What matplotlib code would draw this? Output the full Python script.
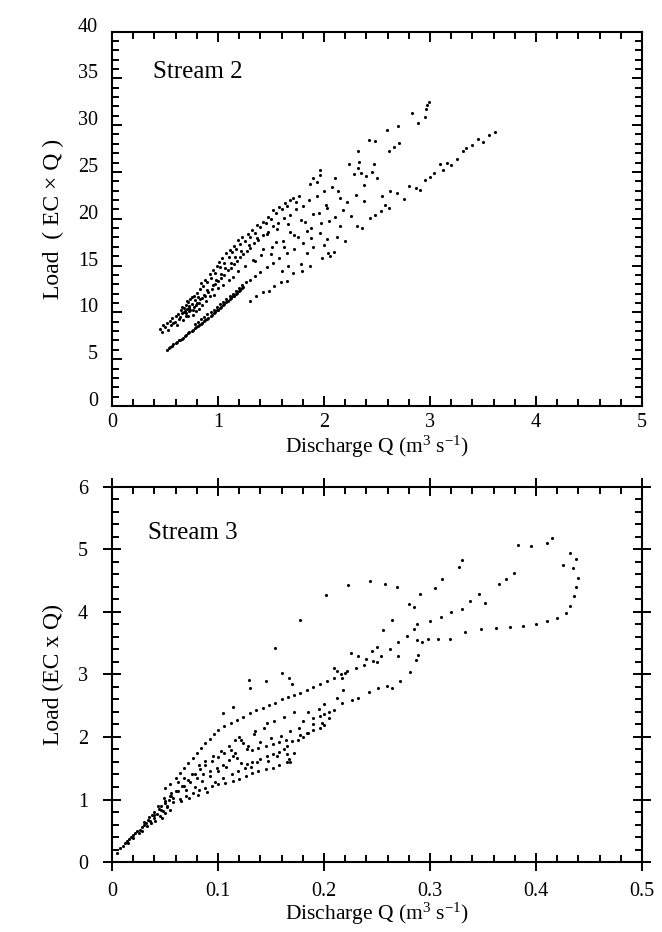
import matplotlib
matplotlib.use("Agg")
import matplotlib.pyplot as plt
import matplotlib.transforms as mtransforms
from matplotlib.ticker import MultipleLocator

plt.rcParams['font.family'] = ['Liberation Serif', 'DejaVu Serif']
plt.rcParams['mathtext.fontset'] = 'custom'
plt.rcParams['mathtext.rm'] = 'Liberation Serif'
plt.rcParams['mathtext.it'] = 'Liberation Serif:italic'

# ---- Stream 2 (discharge m3/s, load EC x Q) ----
s2_upper_q = [0.45, 0.48, 0.50, 0.52, 0.55, 0.57, 0.58, 0.60, 0.62, 0.63, 0.65, 0.66, 0.68, 0.69,
              0.70, 0.71, 0.72, 0.73, 0.74, 0.75, 0.77, 0.78, 0.80, 0.81, 0.83, 0.84, 0.86, 0.88,
              0.90, 0.92, 0.93, 0.95, 0.97, 0.99, 1.01, 1.02, 1.04, 1.06, 1.08, 1.10, 1.11, 1.13,
              1.15, 1.17, 1.19, 1.21, 1.23, 1.25, 1.28, 1.30, 1.32, 1.35, 1.37, 1.40, 1.42, 1.45,
              1.47, 1.50, 1.52, 1.55, 1.58, 1.60, 1.63, 1.65, 1.68, 1.71, 1.74, 1.76]
s2_upper_l = [8.2, 8.6, 8.4, 8.9, 9.1, 9.4, 8.9, 9.6, 9.8, 9.3, 10.2, 9.9, 10.5, 10.1,
              10.8, 10.4, 11.1, 10.7, 11.4, 10.9, 11.8, 11.3, 12.1, 11.6, 12.5, 13.1, 12.8, 13.5,
              13.2, 14.1, 13.7, 14.5, 14.2, 15.0, 15.4, 14.8, 15.8, 15.3, 16.3, 15.9, 16.7, 16.4,
              17.1, 16.8, 17.7, 17.3, 18.0, 17.6, 18.4, 18.1, 18.8, 18.5, 19.3, 19.1, 19.7, 19.5,
              20.2, 20.0, 20.9, 20.6, 21.3, 21.0, 21.7, 21.4, 22.0, 22.2, 21.8, 22.4]

s2_mid_q = [0.70, 0.73, 0.76, 0.79, 0.82, 0.85, 0.88, 0.91, 0.94, 0.97, 1.00, 1.03, 1.06, 1.09,
            1.12, 1.15, 1.18, 1.21, 1.24, 1.27, 1.30, 1.34, 1.38, 1.42, 1.47, 1.52, 1.57, 1.62,
            1.68, 1.74, 1.80, 1.86, 1.93, 2.00]
s2_mid_l = [9.6, 10.1, 10.3, 10.8, 11.0, 11.5, 11.8, 12.2, 12.5, 13.0, 13.3, 13.7, 14.0, 14.5,
            14.7, 15.2, 15.5, 15.9, 16.2, 16.6, 16.9, 17.4, 17.7, 18.3, 18.6, 19.2, 19.5, 20.1,
            20.4, 21.0, 21.4, 22.0, 22.4, 23.0]

s2_fill_q = [0.47, 0.53, 0.56, 0.59, 0.61, 0.64, 0.67, 0.70, 0.72, 0.74, 0.76, 0.77, 0.79, 0.80,
             0.82, 0.83, 0.85, 0.87, 0.89, 0.90, 0.92, 0.95, 0.96, 0.98, 1.00, 1.03, 1.05, 1.07,
             1.10, 1.12, 1.14, 1.16, 1.19, 1.22, 1.25, 1.29, 1.33, 1.37, 1.41, 1.46, 1.51, 1.56,
             1.61, 1.66, 1.72, 1.78, 1.84, 1.90, 1.97, 2.03, 2.10, 0.66, 0.71, 0.75, 0.68, 0.73]
s2_fill_l = [7.9, 8.1, 8.6, 9.0, 8.7, 9.5, 9.2, 9.9, 9.6, 10.2, 9.7, 10.6, 10.1, 11.0,
             10.4, 11.4, 10.8, 11.9, 11.2, 12.4, 11.7, 12.9, 11.9, 13.5, 12.6, 14.1, 12.9, 14.7,
             13.5, 15.3, 13.8, 15.9, 14.4, 16.6, 14.9, 17.2, 15.6, 17.9, 16.1, 18.4, 17.0, 18.9,
             17.6, 19.4, 18.3, 19.9, 18.7, 20.5, 19.5, 21.2, 20.2, 10.6, 11.2, 11.6, 10.0, 10.5]

s2_low_q = [0.78, 0.81, 0.84, 0.87, 0.90, 0.93, 0.96, 0.99, 1.02, 1.05, 1.08, 1.11, 1.14, 1.17,
            1.20, 1.23, 1.26, 1.30, 1.35, 1.40, 1.46, 1.52, 1.58, 1.65, 1.72, 1.80, 1.88, 1.96]
s2_low_l = [8.8, 9.0, 9.3, 9.5, 9.8, 10.0, 10.3, 10.6, 10.9, 11.1, 11.4, 11.7, 12.0, 12.3,
            12.6, 12.9, 13.2, 13.5, 13.9, 14.3, 14.8, 15.3, 15.8, 16.3, 16.8, 17.4, 17.9, 18.5]

s2_base_q = [0.52, 0.54, 0.55, 0.57, 0.58, 0.60, 0.61, 0.63, 0.64, 0.66, 0.67, 0.69, 0.70, 0.72,
             0.73, 0.75, 0.76, 0.78, 0.79, 0.81, 0.82, 0.84, 0.85, 0.87, 0.88, 0.90, 0.91, 0.93,
             0.94, 0.96, 0.97, 0.99, 1.00, 1.02, 1.03, 1.05, 1.06, 1.08, 1.09, 1.11, 1.12, 1.14,
             1.15, 1.17, 1.18, 1.20, 1.21, 1.23, 1.24]
s2_base_l = [6.0, 6.2, 6.3, 6.4, 6.6, 6.7, 6.8, 7.0, 7.1, 7.2, 7.3, 7.5, 7.6, 7.8,
             7.9, 8.0, 8.1, 8.3, 8.4, 8.5, 8.6, 8.8, 8.9, 9.1, 9.2, 9.3, 9.4, 9.6,
             9.7, 9.9, 10.0, 10.2, 10.3, 10.5, 10.6, 10.8, 10.9, 11.1, 11.2, 11.4, 11.5, 11.7,
             11.8, 12.0, 12.1, 12.3, 12.4, 12.6, 12.7]

s2_right_q = [1.30, 1.36, 1.42, 1.48, 1.53, 1.59, 1.65, 1.71, 1.79, 1.87, 1.98, 2.06, 2.09, 2.20,
              2.12, 2.31, 2.36, 2.43, 2.48, 2.54, 2.58, 2.61, 2.69, 2.75, 2.80, 2.87, 2.91, 2.95,
              3.00, 3.04, 3.09, 3.12, 3.16, 3.20, 3.25, 3.31, 3.34, 3.40, 3.45, 3.50, 3.56, 3.61]
s2_right_l = [11.2, 11.8, 12.2, 12.3, 12.8, 13.2, 13.3, 14.2, 14.4, 14.9, 15.8, 16.0, 16.4, 17.6,
              18.0, 19.2, 19.0, 20.1, 20.4, 20.8, 21.5, 21.2, 22.7, 22.1, 23.5, 23.3, 23.1, 24.1,
              24.5, 24.9, 25.8, 25.2, 26.0, 25.7, 26.4, 27.2, 27.6, 27.9, 28.5, 28.2, 28.9, 29.3]

s2_cloud_q = [1.35, 1.42, 1.50, 1.55, 1.62, 1.68, 1.75, 1.82, 1.88, 1.87, 1.90, 1.93, 1.96, 1.96,
              1.95, 2.02, 2.05, 2.08, 2.10, 2.13, 2.15, 2.18, 2.22, 2.24, 2.28, 2.30, 2.32, 2.33,
              2.35, 2.38, 2.40, 2.42, 2.45, 2.47, 2.48, 2.50, 2.25, 2.32, 2.15, 2.00, 1.84, 1.90,
              2.03, 2.04, 1.60, 1.66, 1.78, 2.55, 2.62, 2.38]
s2_cloud_l = [15.5, 16.8, 16.2, 17.5, 17.0, 18.6, 18.0, 19.6, 19.0, 23.7, 24.3, 23.9, 25.2, 24.7,
              20.6, 21.5, 19.8, 23.4, 24.3, 23.0, 22.2, 20.9, 21.8, 25.9, 24.8, 22.5, 25.4, 26.1,
              24.9, 23.6, 24.6, 28.4, 25.0, 25.9, 28.3, 24.3, 20.3, 27.2, 19.2, 17.2, 16.3, 17.0,
              17.8, 16.3, 14.4, 14.9, 15.2, 22.4, 23.0, 21.9]

s2_top_q = [2.59, 2.66, 2.61, 2.70, 2.71, 2.83, 2.89, 2.95, 2.96, 2.97, 2.99]
s2_top_l = [29.5, 27.7, 27.2, 29.9, 28.1, 31.3, 30.2, 30.9, 31.7, 32.2, 32.5]

# ---- Stream 3 ----
s3_origin_q = [0.005, 0.008, 0.010, 0.012, 0.014, 0.016, 0.018, 0.020, 0.022, 0.024, 0.026, 0.028,
               0.030, 0.030, 0.032, 0.034, 0.035, 0.036, 0.038, 0.040, 0.040, 0.042, 0.044, 0.045,
               0.046, 0.048, 0.050, 0.050, 0.052, 0.054, 0.055, 0.056, 0.015, 0.020, 0.025, 0.028,
               0.033, 0.037, 0.041, 0.043, 0.047, 0.049]
s3_origin_l = [0.15, 0.22, 0.25, 0.30, 0.33, 0.37, 0.40, 0.43, 0.47, 0.50, 0.52, 0.56,
               0.60, 0.64, 0.62, 0.68, 0.72, 0.66, 0.75, 0.70, 0.80, 0.77, 0.85, 0.74,
               0.90, 0.82, 0.95, 0.78, 0.88, 1.00, 0.84, 1.10, 0.30, 0.38, 0.46, 0.50,
               0.58, 0.62, 0.66, 0.90, 0.70, 1.02]

s3_top_q = [0.050, 0.055, 0.060, 0.064, 0.068, 0.072, 0.076, 0.080, 0.084, 0.088, 0.092, 0.096,
            0.100, 0.106, 0.112, 0.118, 0.124, 0.130, 0.136, 0.142, 0.148, 0.154, 0.160, 0.166,
            0.172, 0.177, 0.184, 0.190, 0.196, 0.203, 0.209, 0.216, 0.222, 0.230, 0.238, 0.246,
            0.254, 0.262, 0.270, 0.278, 0.285]
s3_top_l = [1.18, 1.25, 1.35, 1.42, 1.50, 1.58, 1.66, 1.74, 1.82, 1.90, 1.97, 2.04,
            2.11, 2.17, 2.22, 2.27, 2.32, 2.38, 2.43, 2.47, 2.51, 2.55, 2.60, 2.64,
            2.67, 2.70, 2.75, 2.80, 2.85, 2.90, 2.95, 3.00, 3.05, 3.10, 3.15, 3.22,
            3.30, 3.40, 3.52, 3.62, 3.72]

s3_b2_q = [0.055, 0.060, 0.066, 0.072, 0.078, 0.083, 0.088, 0.094, 0.100, 0.106, 0.112, 0.116,
           0.120, 0.124, 0.127, 0.132, 0.138, 0.145, 0.152, 0.158, 0.164, 0.170, 0.175]
s3_b2_l = [1.05, 1.14, 1.22, 1.31, 1.40, 1.48, 1.55, 1.62, 1.68, 1.74, 1.79, 1.95,
           2.00, 1.90, 1.80, 1.79, 1.82, 1.86, 1.88, 1.92, 1.95, 1.94, 1.95]

s3_b3_q = [0.050, 0.056, 0.062, 0.068, 0.074, 0.080, 0.086, 0.092, 0.099, 0.105, 0.110, 0.114,
           0.118, 0.122, 0.127, 0.132, 0.140, 0.146, 0.152, 0.158, 0.162, 0.165, 0.167, 0.168]
s3_b3_l = [0.98, 1.06, 1.14, 1.21, 1.28, 1.35, 1.41, 1.46, 1.50, 1.55, 1.63, 1.69,
           1.66, 1.58, 1.56, 1.60, 1.65, 1.69, 1.72, 1.76, 1.80, 1.72, 1.65, 1.60]

s3_b4_q = [0.040, 0.046, 0.052, 0.058, 0.064, 0.070, 0.076, 0.082, 0.088, 0.094, 0.100, 0.107,
           0.114, 0.120, 0.126, 0.132, 0.138, 0.145, 0.152, 0.158, 0.165, 0.172, 0.177, 0.184,
           0.190, 0.196, 0.200, 0.205, 0.209, 0.217, 0.226, 0.232, 0.242, 0.251, 0.259, 0.264,
           0.272, 0.281, 0.287, 0.289]
s3_b4_l = [0.76, 0.83, 0.90, 0.96, 1.01, 1.06, 1.11, 1.15, 1.19, 1.22, 1.24, 1.26,
           1.29, 1.33, 1.37, 1.42, 1.45, 1.48, 1.50, 1.55, 1.60, 1.75, 2.03, 2.07,
           2.11, 2.15, 2.19, 2.30, 2.43, 2.54, 2.59, 2.62, 2.72, 2.78, 2.81, 2.78,
           2.89, 3.04, 3.23, 3.31]

s3_fill_q = [0.058, 0.062, 0.065, 0.068, 0.070, 0.073, 0.075, 0.078, 0.081, 0.082, 0.085, 0.088,
             0.090, 0.092, 0.095, 0.097, 0.100, 0.103, 0.105, 0.108, 0.110, 0.113, 0.116, 0.119,
             0.122, 0.125, 0.128, 0.131, 0.134, 0.137, 0.140, 0.143, 0.147, 0.150, 0.153, 0.156,
             0.159, 0.162, 0.165, 0.168, 0.172, 0.176, 0.180, 0.185, 0.190, 0.195, 0.200, 0.205,
             0.212, 0.218]
s3_fill_l = [1.02, 1.28, 0.98, 1.34, 1.15, 1.02, 1.40, 1.20, 1.07, 1.55, 1.30, 1.62,
             1.12, 1.38, 1.70, 1.28, 1.45, 1.78, 1.34, 1.52, 1.85, 1.40, 1.75, 1.46,
             1.95, 1.50, 1.85, 1.52, 2.05, 1.60, 1.92, 2.15, 1.62, 1.98, 2.25, 1.70,
             2.02, 2.32, 1.85, 2.10, 2.40, 2.15, 2.25, 2.40, 2.20, 2.45, 2.52, 2.40,
             2.62, 2.75]

s3_mid_q = [0.129, 0.130, 0.145, 0.160, 0.167, 0.170, 0.105, 0.114, 0.146, 0.135, 0.177, 0.154,
            0.190, 0.196, 0.200, 0.198, 0.185, 0.180, 0.209, 0.217, 0.212, 0.220, 0.225, 0.232,
            0.245, 0.250, 0.256, 0.264, 0.270, 0.250, 0.240]
s3_mid_l = [2.91, 2.78, 2.90, 3.03, 2.95, 2.85, 2.39, 2.48, 2.22, 2.10, 3.87, 3.42,
            2.30, 2.33, 2.36, 2.22, 2.06, 2.00, 3.10, 2.95, 3.05, 3.02, 3.34, 3.30,
            3.38, 3.44, 3.71, 3.87, 3.30, 3.20, 3.25]

s3_upper_q = [0.202, 0.223, 0.243, 0.258, 0.269, 0.280, 0.285, 0.291, 0.305, 0.311, 0.327,
              0.330, 0.346, 0.352, 0.365, 0.372, 0.379, 0.383, 0.395, 0.410, 0.415, 0.300,
              0.310, 0.320, 0.330, 0.338, 0.288, 0.288]
s3_upper_l = [4.27, 4.43, 4.50, 4.44, 4.40, 4.12, 4.08, 4.29, 4.38, 4.52, 4.72,
              4.83, 4.29, 4.15, 4.45, 4.52, 4.63, 5.07, 5.05, 5.10, 5.18, 3.85,
              3.92, 4.00, 4.05, 4.18, 3.80, 3.55]

s3_loop_q = [0.440, 0.438, 0.436, 0.432, 0.428, 0.420, 0.410, 0.400, 0.388, 0.375, 0.362, 0.348,
             0.333, 0.319, 0.308, 0.298, 0.292, 0.435, 0.438, 0.432, 0.425]
s3_loop_l = [4.55, 4.40, 4.25, 4.10, 3.98, 3.90, 3.85, 3.80, 3.78, 3.76, 3.74, 3.72,
             3.68, 3.56, 3.56, 3.57, 3.52, 4.70, 4.85, 4.95, 4.75]


def style_axes(ax, xmax, ymax, xmaj, xmin, ymaj, ymin, cross):
    ax.set_xlim(0, xmax)
    ax.set_ylim(0, ymax)
    ax.xaxis.set_major_locator(MultipleLocator(xmaj))
    ax.xaxis.set_minor_locator(MultipleLocator(xmin))
    ax.yaxis.set_major_locator(MultipleLocator(ymaj))
    ax.yaxis.set_minor_locator(MultipleLocator(ymin))
    for sp in ax.spines.values():
        sp.set_linewidth(1.5)
    ax.tick_params(which='both', top=True, right=True, labelsize=14.5, width=1.4)
    ax.tick_params(which='minor', direction='in', length=4.8)
    if cross:
        ax.tick_params(which='major', direction='inout', length=12.5)
        ax.tick_params(axis='x', which='major', pad=8)
        ax.tick_params(axis='y', which='major', pad=11)
    else:
        ax.tick_params(which='major', direction='in', length=7.2)
        ax.tick_params(axis='x', which='major', pad=5)
        ax.tick_params(axis='y', which='major', pad=10)


fig = plt.figure(figsize=(6.62, 9.32), dpi=100)
ax1 = fig.add_axes([0.1692, 0.5644, 0.8006, 0.4018])
ax2 = fig.add_axes([0.1692, 0.0751, 0.8006, 0.4024])

for q, l in [(s2_upper_q, s2_upper_l), (s2_mid_q, s2_mid_l), (s2_fill_q, s2_fill_l),
             (s2_low_q, s2_low_l), (s2_base_q, s2_base_l), (s2_right_q, s2_right_l),
             (s2_cloud_q, s2_cloud_l), (s2_top_q, s2_top_l)]:
    ax1.scatter(q, l, s=5, c='black', linewidths=0)

for q, l in [(s3_origin_q, s3_origin_l), (s3_top_q, s3_top_l), (s3_b2_q, s3_b2_l),
             (s3_b3_q, s3_b3_l), (s3_b4_q, s3_b4_l), (s3_fill_q, s3_fill_l),
             (s3_mid_q, s3_mid_l), (s3_upper_q, s3_upper_l), (s3_loop_q, s3_loop_l)]:
    ax2.scatter(q, l, s=5, c='black', linewidths=0)

style_axes(ax1, 5, 40, 1, 0.2, 5, 1, cross=False)
style_axes(ax2, 0.5, 6, 0.1, 0.02, 1, 0.2, cross=True)
ax2.set_xticks([0, 0.1, 0.2, 0.3, 0.4, 0.5])
ax2.set_xticklabels(['0', '0.1', '0.2', '0.3', '0.4', '0.5'])

# the top panel's y labels sit a little above their ticks
shift = mtransforms.ScaledTranslation(0, 7 / 100, fig.dpi_scale_trans)
for lbl in ax1.get_yticklabels():
    lbl.set_transform(lbl.get_transform() + shift)

ax1.text(0.077, 0.892, 'Stream 2', transform=ax1.transAxes, fontsize=18, va='center')
ax2.text(0.068, 0.876, 'Stream 3', transform=ax2.transAxes, fontsize=18, va='center')

ax1.set_xlabel('Discharge Q (m$^3$ s$^{-1}$)', fontsize=15.5, labelpad=1)
ax2.set_xlabel('Discharge Q (m$^3$ s$^{-1}$)', fontsize=15.5, labelpad=0)
ax1.set_ylabel('Load  ( EC \u00d7 Q )', fontsize=17, labelpad=10)
ax2.set_ylabel('Load (EC x Q)', fontsize=17, labelpad=10)

fig.savefig('out.png', dpi=100)
